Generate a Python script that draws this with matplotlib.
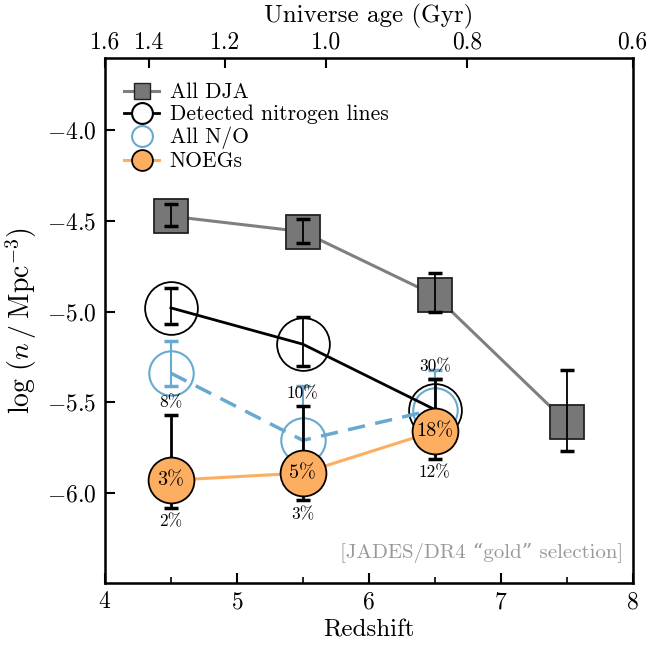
import matplotlib
matplotlib.use('Agg')
import matplotlib.pyplot as plt
from matplotlib.lines import Line2D
from matplotlib.ticker import MultipleLocator

plt.rcParams['font.family'] = ['cmr10', 'DejaVu Serif']
plt.rcParams['mathtext.fontset'] = 'cm'
plt.rcParams['axes.formatter.use_mathtext'] = True
plt.rcParams['axes.unicode_minus'] = True

# redshift bins
z_dja = [4.5, 5.5, 6.5, 7.5]
z_sub = [4.5, 5.5, 6.5]

# log number densities and error bar ends
dja = [-4.475, -4.56, -4.91, -5.61]
dja_lo = [-4.53, -4.62, -5.00, -5.77]
dja_hi = [-4.41, -4.49, -4.79, -5.32]

det = [-4.98, -5.18, -5.54]
det_lo = [-5.07, -5.30, -5.62]
det_hi = [-4.87, -5.03, -5.37]

no = [-5.34, -5.71, -5.54]
no_lo = [-5.41, -5.80, -5.62]
no_hi = [-5.16, -5.41, -5.32]

noeg = [-5.93, -5.89, -5.66]
noeg_lo = [-6.08, -6.04, -5.81]
noeg_hi = [-5.57, -5.52, -5.37]

pct_inside = ['3%', '5%', '18%']
pct_above = ['8%', '10%', '30%']
pct_below = ['2%', '3%', '12%']

# top axis: universe age
age_z = [4.0, 4.336, 4.913, 5.677, 6.748, 8.0]
age_labels = ['1.6', '1.4', '1.2', '1.0', '0.8', '0.6']

c_gray = '#7f7f7f'
c_blue = '#67a9cf'
c_orange = '#fdae61'


def errs(y, lo, hi):
    return [[a - b for a, b in zip(y, lo)], [b - a for a, b in zip(y, hi)]]


fig = plt.figure(figsize=(6.49, 6.48), dpi=100)
ax = fig.add_axes([0.1618, 0.1003, 0.8128, 0.8102])

# All DJA
ax.plot(z_dja, dja, '-', color=c_gray, lw=2.2, zorder=2)
ax.plot(z_dja, dja, 's', ms=24, mfc='#777777', mec='#222222', mew=1.3, zorder=3)
ax.errorbar(z_dja, dja, yerr=errs(dja, dja_lo, dja_hi), fmt='none', ecolor='k',
            elinewidth=1.3, capsize=5, capthick=2.5, zorder=4)

# Detected nitrogen lines
ax.plot(z_sub, det, 'o', ms=38, mfc='white', mec='k', mew=1.3, zorder=2)
ax.errorbar(z_sub, det, yerr=errs(det, det_lo, det_hi), fmt='none', ecolor='k',
            elinewidth=1.3, capsize=5, capthick=2.5, zorder=3)
ax.plot(z_sub, det, '-', color='k', lw=2.0, zorder=5)

# All N/O
ax.plot(z_sub, no, 'o', ms=32, mfc='none', mec=c_blue, mew=1.5, zorder=4)
ax.errorbar(z_sub, no, yerr=errs(no, no_lo, no_hi), fmt='none', ecolor=c_blue,
            elinewidth=1.5, capsize=5, capthick=2.5, zorder=3)
ax.plot(z_sub, no, '--', color=c_blue, lw=2.5, dashes=(5, 3), zorder=5)

# NOEGs
ax.plot(z_sub, noeg, '-', color=c_orange, lw=2.2, zorder=6)
ax.errorbar(z_sub, noeg, yerr=errs(noeg, noeg_lo, noeg_hi), fmt='none', ecolor='k',
            elinewidth=2.0, capsize=5, capthick=2.5, zorder=6)
ax.plot(z_sub, noeg, 'o', ms=33, mfc=c_orange, mec='k', mew=1.3, zorder=7)

for x, y, t in zip(z_sub, noeg, pct_inside):
    ax.text(x, y, t, ha='center', va='center', fontsize=14.5, zorder=8)
for x, y, t in zip(z_sub, noeg_hi, pct_above):
    ax.annotate(t, (x, y), xytext=(0, 9), textcoords='offset points',
                ha='center', va='center', fontsize=12.5, zorder=8)
for x, y, t in zip(z_sub, noeg_lo, pct_below):
    ax.annotate(t, (x, y), xytext=(0, -10), textcoords='offset points',
                ha='center', va='center', fontsize=12.5, zorder=8)

ax.text(7.93, -6.33, '[JADES/DR4 \u201cgold\u201d selection]', ha='right', va='center',
        fontsize=15, color='#999999')

ax.set_xlim(4, 8)
ax.set_ylim(-6.496, -3.603)
ax.set_xticks([4, 5, 6, 7, 8])
ax.set_yticks([-4.0, -4.5, -5.0, -5.5, -6.0])
ax.xaxis.set_minor_locator(MultipleLocator(0.5))
ax.tick_params(which='both', direction='in', top=False, right=False, labelsize=17)
ax.tick_params(which='major', length=7, width=1.5, pad=6)
ax.tick_params(which='minor', length=4, width=1.2)
for s in ax.spines.values():
    s.set_linewidth(1.8)
ax.set_xlabel('Redshift', fontsize=18, labelpad=4)
ax.set_ylabel(r'$\log\,(n\,/\;\mathrm{Mpc}^{-3})$', fontsize=20, labelpad=6)

top = ax.twiny()
top.set_xlim(ax.get_xlim())
top.set_xticks(age_z)
top.set_xticklabels(age_labels)
top.tick_params(direction='in', length=7, width=1.5, labelsize=17, pad=3)
top.set_xlabel('Universe age (Gyr)', fontsize=18, labelpad=7)

handles = [
    Line2D([], [], color=c_gray, lw=2.2, marker='s', ms=12, mfc='#777777', mec='#222222'),
    Line2D([], [], color='k', lw=2.0, marker='o', ms=15, mfc='white', mec='k', mew=1.5),
    Line2D([], [], ls='none', marker='o', ms=15, mfc='none', mec=c_blue, mew=1.5),
    Line2D([], [], color=c_orange, lw=2.2, marker='o', ms=15, mfc=c_orange, mec='k', mew=1.3),
]
ax.legend(handles, ['All DJA', 'Detected nitrogen lines', 'All N/O', 'NOEGs'],
          loc='upper left', bbox_to_anchor=(0.0, 0.99), frameon=False, fontsize=15.5,
          handlelength=1.6, handletextpad=0.5, labelspacing=0.12)

fig.savefig('out.png', dpi=100)
